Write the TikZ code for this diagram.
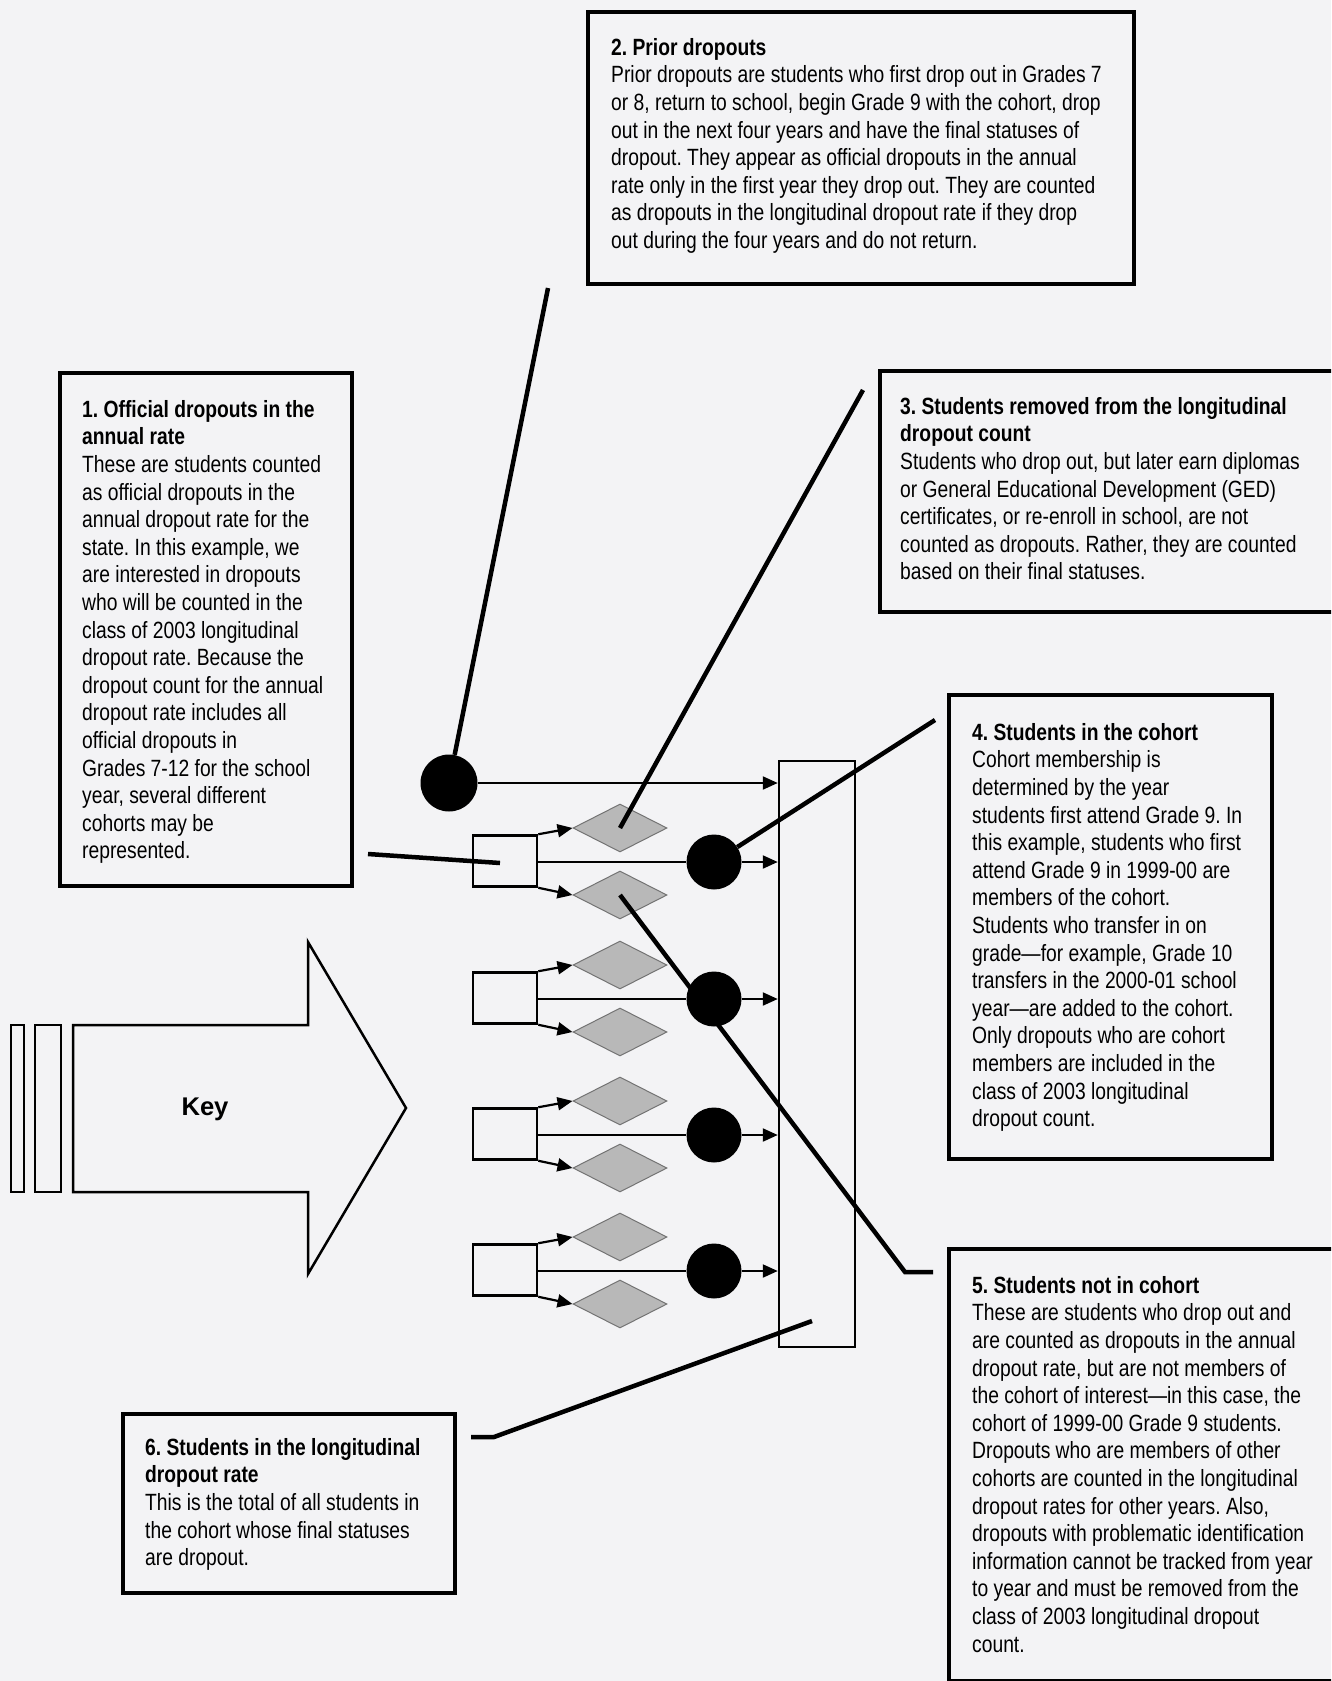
\documentclass[tikz,border=0pt]{standalone}
\usepackage{fontspec}
\setmainfont{Liberation Sans}[FakeStretch=0.82]
\newfontfamily\keyfont{Liberation Sans}
\usetikzlibrary{arrows.meta,shapes.geometric}
\definecolor{paper}{RGB}{243,243,245}
\frenchspacing
\begin{document}
\begin{tikzpicture}[x=1pt,y=-1pt,
  boxline/.style={line width=3.5pt},
  leader/.style={line width=4.5pt},
  conn/.style={line width=2.2pt},
  arr/.style={conn,-{Triangle[length=15pt,width=13pt]}},
  keyline/.style={line width=2.5pt},
  srect/.style={draw,line width=2.5pt,minimum width=64pt,minimum height=51pt,inner sep=0pt},
  tallrect/.style={draw,line width=2.5pt,minimum width=76pt,minimum height=586pt,inner sep=0pt},
  dia/.style={diamond,aspect=2,draw=black!55,fill=black!28,line width=1pt,minimum width=94pt,minimum height=48pt,inner sep=0pt},
  dot/.style={circle,fill=black,minimum size=55pt,inner sep=0pt},
  txt/.style={anchor=north west,inner sep=0pt,align=left,font=\fontsize{23.5pt}{27.6pt}\selectfont}]
\useasboundingbox (0,0) rectangle (1331,1681);
\fill[paper] (0,0) rectangle (1331,1681);
\begin{scope}
\clip (0,0) rectangle (1331,1681);
% boxes
\draw[boxline] (60,373) rectangle (352,886);
\draw[boxline] (588,12) rectangle (1134,284);
\draw[boxline] (880,371) rectangle (1345,612);
\draw[boxline] (949,695) rectangle (1272,1159);
\draw[boxline] (949,1249) rectangle (1345,1681);
\draw[boxline] (123,1414) rectangle (455,1593);
\end{scope}

% texts
\node[txt] (t1) at (82,397.7) {\strut\textbf{1. Official dropouts in the}\\
\textbf{annual rate}\\
These are students counted\\
as official dropouts in the\\
annual dropout rate for the\\
state. In this example, we\\
are interested in dropouts\\
who will be counted in the\\
class of 2003 longitudinal\\
dropout rate. Because the\\
dropout count for the annual\\
dropout rate includes all\\
official dropouts in\\
Grades 7-12 for the school\\
year, several different\\
cohorts may be\\
represented.};

\node[txt] (t2) at (611,35.7) {\strut\textbf{2. Prior dropouts}\\
Prior dropouts are students who first drop out in Grades 7\\
or 8, return to school, begin Grade 9 with the cohort, drop\\
out in the next four years and have the final statuses of\\
dropout. They appear as official dropouts in the annual\\
rate only in the first year they drop out. They are counted\\
as dropouts in the longitudinal dropout rate if they drop\\
out during the four years and do not return.};

\node[txt] (t3) at (900,394.7) {\strut\textbf{3. Students removed from the longitudinal}\\
\textbf{dropout count}\\
Students who drop out, but later earn diplomas\\
or General Educational Development (GED)\\
certificates, or re-enroll in school, are not\\
counted as dropouts. Rather, they are counted\\
based on their final statuses.};

\node[txt] (t4) at (972,720.7) {\strut\textbf{4. Students in the cohort}\\
Cohort membership is\\
determined by the year\\
students first attend Grade 9. In\\
this example, students who first\\
attend Grade 9 in 1999-00 are\\
members of the cohort.\\
Students who transfer in on\\
grade—for example, Grade 10\\
transfers in the 2000-01 school\\
year—are added to the cohort.\\
Only dropouts who are cohort\\
members are included in the\\
class of 2003 longitudinal\\
dropout count.};

\node[txt] (t5) at (972,1273.7) {\strut\textbf{5. Students not in cohort}\\
These are students who drop out and\\
are counted as dropouts in the annual\\
dropout rate, but are not members of\\
the cohort of interest—in this case, the\\
cohort of 1999-00 Grade 9 students.\\
Dropouts who are members of other\\
cohorts are counted in the longitudinal\\
dropout rates for other years. Also,\\
dropouts with problematic identification\\
information cannot be tracked from year\\
to year and must be removed from the\\
class of 2003 longitudinal dropout\\
count.};

\node[txt] (t6) at (145,1435.7) {\strut\textbf{6. Students in the longitudinal}\\
\textbf{dropout rate}\\
This is the total of all students in\\
the cohort whose final statuses\\
are dropout.};

% key arrow
\draw[keyline] (11,1025) rectangle (24,1192);
\draw[keyline] (35,1025) rectangle (61,1192);
\draw[keyline] (73,1025) -- (308,1025) -- (308,942) -- (406,1108) -- (308,1274) -- (308,1192) -- (73,1192) -- cycle;
\node[font=\keyfont\bfseries\fontsize{25.6pt}{30pt}\selectfont,anchor=base,inner sep=0pt] (key) at (205,1115) {Key};

% flow diagram
\node[tallrect] (T) at (817,1054) {};
\node[dot,minimum size=57pt] (d0) at (449,783) {};
\draw[arr] (d0) -- (d0 -| T.west);
\foreach \i/\y in {1/862,2/999,3/1135,4/1271}{
  \node[srect] (r\i) at (505,\y-1) {};
  \node[dia] (du\i) at (620,\y-34) {};
  \node[dia] (dl\i) at (620,\y+33) {};
  \node[dot] (d\i) at (714,\y) {};
  \draw[arr] (r\i.north east) -- (du\i.west);
  \draw[arr] (r\i.south east) -- (dl\i.west);
  \draw[conn] (r\i.east |- d\i) -- (d\i);
  \draw[arr] (d\i) -- (d\i -| T.west);
}

% leader lines
\coordinate (c1) at (368,854);
\coordinate (e1) at (500,863);
\coordinate (c2) at (548,288);
\coordinate (c3) at (863,390);
\coordinate (c4) at (935,720);
\coordinate (c5a) at (905,1272);
\coordinate (c5b) at (933,1272);
\coordinate (c6a) at (471,1437);
\coordinate (c6b) at (494,1437);
\coordinate (c6c) at (812,1321);
\draw[leader] (c1) -- (e1);
\draw[leader] (c2) -- (d0);
\draw[leader] (c3) -- (du1.center);
\draw[leader] (c4) -- (d1);
\draw[leader] (dl1.center) -- (c5a) -- (c5b);
\draw[leader] (c6a) -- (c6b) -- (c6c);
\end{tikzpicture}
\end{document}
